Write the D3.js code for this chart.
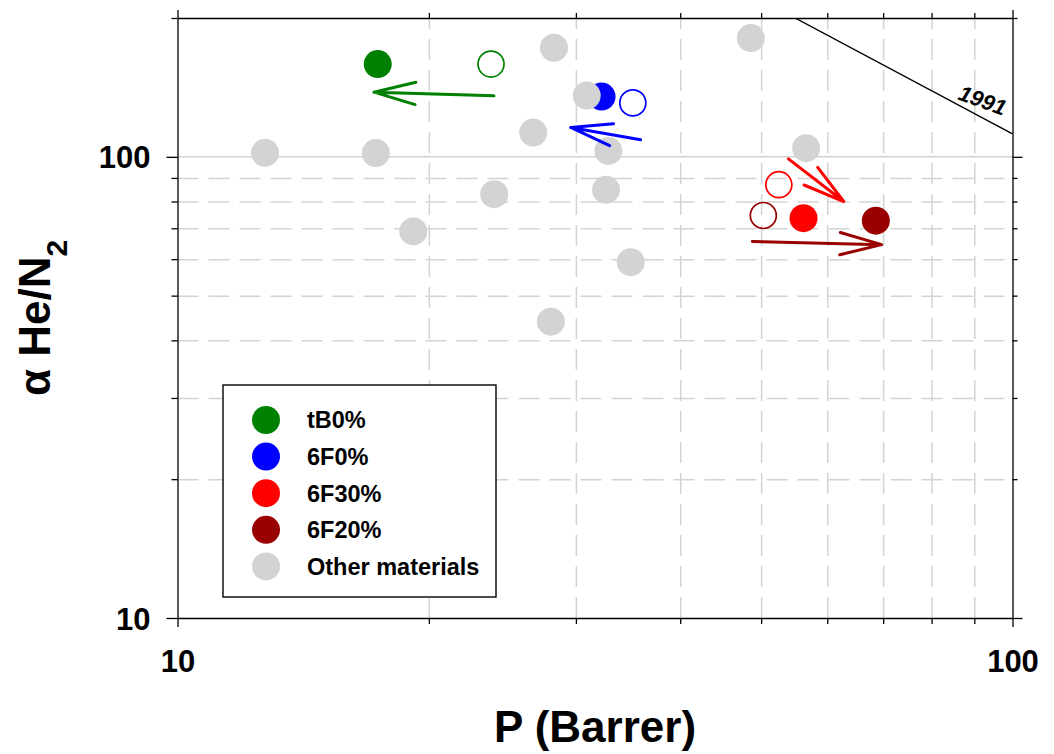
<!DOCTYPE html>
<html>
<head>
<meta charset="utf-8">
<script src="https://cdn.jsdelivr.net/npm/d3@7"></script>
<style>
  body { margin: 0; background: #fff; }
  svg text { font-family: "Liberation Sans", Arial, sans-serif; font-weight: bold; }
  .grid line { stroke: #d3d3d3; stroke-width: 1.5; stroke-dasharray: 21 10; }
  .grid path { display: none; }
  .axis path, .axis line { stroke: #000; stroke-width: 1.3; }
</style>
</head>
<body>
<div class="container"></div>
<script>
// data
const seriesNames = ["tB0%", "6F0%", "6F30%", "6F20%"];
const filledP = [17.37, 32.2, 56.2, 68.6];
const filledAlpha = [158.9, 135.1, 73.6, 72.7];
const openP = [23.74, 35.1, 52.5, 50.3];
const openAlpha = [158.9, 130.9, 87.0, 74.6];
// arrows: from the open marker side towards the filled one
const arrowFromP = [23.93, 35.86, 53.9, 48.8];
const arrowFromAlpha = [135.6, 108.9, 99.0, 65.5];
const arrowToP = [17.19, 29.57, 62.8, 69.7];
const arrowToAlpha = [138.1, 115.8, 80.0, 64.5];

const otherName = "Other materials";
const otherP = [12.73, 17.28, 19.16, 23.95, 26.67, 28.24, 30.91, 32.81, 32.6, 34.9, 28.0, 48.6, 56.6];
const otherAlpha = [102.0, 101.9, 68.9, 83.0, 112.9, 172.4, 135.8, 103.0, 84.8, 59.1, 43.9, 180.9, 104.4];

// 1991 upper bound, where it crosses the frame
const boundP = [54.9, 100];
const boundAlpha = [200, 112.2];
const boundLabel = "1991";

const xMajor = [10, 100];
const xMinor = [20, 30, 40, 50, 60, 70, 80, 90];
const yMajor = [10, 100];
const yMinor = [20, 30, 40, 50, 60, 70, 80, 90, 200];

// styles
const colors = ["#008000", "#0000ff", "#ff0000", "#990000"];
const gray = "#d3d3d3";

const w = 1054, h = 754;
const margin = { top: 18, right: 41.5, bottom: 136, left: 177.5 };
const iw = w - margin.left - margin.right;
const ih = h - margin.top - margin.bottom;

const svg = d3.select(".container").append("svg")
  .attr("width", w).attr("height", h);

const x = d3.scaleLog().domain([10, 100]).range([0, iw]);
const y = d3.scaleLog().domain([10, 200]).range([ih, 0]);

const g = svg.append("g").attr("transform", `translate(${margin.left},${margin.top})`);

// dashed grid
g.append("g").attr("class", "grid")
  .attr("transform", `translate(0,${ih})`)
  .call(d3.axisBottom(x).tickValues(xMinor).tickSize(-ih).tickFormat(""));
g.append("g").attr("class", "grid")
  .call(d3.axisLeft(y).tickValues(yMinor.filter(v => v < 200)).tickSize(-iw).tickFormat(""));
// solid line at 100
g.append("line")
  .attr("x1", 0).attr("x2", iw)
  .attr("y1", y(100)).attr("y2", y(100))
  .attr("stroke", gray).attr("stroke-width", 1.5);

// 1991 bound
g.append("clipPath").attr("id", "plot-clip")
  .append("rect").attr("width", iw).attr("height", ih);
g.append("path")
  .datum(boundP.map((p, i) => [p, boundAlpha[i]]))
  .attr("clip-path", "url(#plot-clip)")
  .attr("fill", "none").attr("stroke", "#000").attr("stroke-width", 1.4)
  .attr("d", d3.line().x(d => x(d[0])).y(d => y(d[1])));
g.append("text")
  .attr("transform", `translate(${x(92.1)},${y(132.5)}) rotate(20)`)
  .attr("text-anchor", "middle").attr("dominant-baseline", "central")
  .style("font-style", "italic").style("font-size", "22px")
  .text(boundLabel);

// filled and open markers
const r = 14;
g.selectAll(".filled").data(seriesNames).enter().append("circle")
  .attr("class", "filled")
  .attr("cx", (d, i) => x(filledP[i])).attr("cy", (d, i) => y(filledAlpha[i]))
  .attr("r", r).attr("fill", (d, i) => colors[i]);
g.selectAll(".open").data(seriesNames).enter().append("circle")
  .attr("class", "open")
  .attr("cx", (d, i) => x(openP[i])).attr("cy", (d, i) => y(openAlpha[i]))
  .attr("r", r - 1).attr("fill", "none")
  .attr("stroke", (d, i) => colors[i]).attr("stroke-width", 1.7);

// other materials (drawn over the coloured ones, as in the figure)
g.selectAll(".other").data(otherP).enter().append("circle")
  .attr("class", "other")
  .attr("cx", d => x(d)).attr("cy", (d, i) => y(otherAlpha[i]))
  .attr("r", r).attr("fill", gray);

// arrows
const headLen = 43, headAng = 15 * Math.PI / 180;
seriesNames.forEach((name, i) => {
  const x0 = x(arrowFromP[i]), y0 = y(arrowFromAlpha[i]);
  const x1 = x(arrowToP[i]), y1 = y(arrowToAlpha[i]);
  const a = Math.atan2(y1 - y0, x1 - x0);
  const b1 = [x1 - headLen * Math.cos(a - headAng), y1 - headLen * Math.sin(a - headAng)];
  const b2 = [x1 - headLen * Math.cos(a + headAng), y1 - headLen * Math.sin(a + headAng)];
  const path = d3.path();
  path.moveTo(x0, y0); path.lineTo(x1, y1);
  path.moveTo(b1[0], b1[1]); path.lineTo(x1, y1); path.lineTo(b2[0], b2[1]);
  g.append("path")
    .attr("d", path.toString())
    .attr("fill", "none").attr("stroke", colors[i])
    .attr("stroke-width", 3).attr("stroke-linecap", "round").attr("stroke-linejoin", "round");
});

// axes: major + minor ticks on all four sides
function addAxis(axisFn, scale, transform, major, minor, majorSize, minorSize, labels) {
  const ga = g.append("g").attr("class", "axis").attr("transform", transform);
  ga.call(axisFn(scale).tickValues(minor).tickSize(minorSize).tickSizeOuter(0).tickFormat(""));
  const gm = g.append("g").attr("class", "axis").attr("transform", transform);
  gm.call(axisFn(scale).tickValues(major).tickSize(majorSize).tickSizeOuter(0)
    .tickFormat(labels ? d3.format("d") : ""));
  gm.select(".domain").remove();
  return gm;
}
const bottom = addAxis(d3.axisBottom, x, `translate(0,${ih})`, xMajor, xMinor, 9, 6, true);
bottom.selectAll("text").attr("y", 32).attr("dy", "0.71em")
  .style("font-size", "31px").attr("fill", "#000");
addAxis(d3.axisTop, x, "translate(0,0)", xMajor, xMinor, 8, 5, false);
const left = addAxis(d3.axisLeft, y, "translate(0,0)", yMajor, yMinor, 11, 6, true);
left.selectAll("text").attr("x", -27).attr("dy", "0.36em")
  .style("font-size", "31px").attr("fill", "#000");
addAxis(d3.axisRight, y, `translate(${iw},0)`, yMajor, yMinor, 10, 5, false);

// axis titles
svg.append("text")
  .attr("x", margin.left + iw / 2).attr("y", 742)
  .attr("text-anchor", "middle").style("font-size", "44px")
  .text("P (Barrer)");
const yt = svg.append("text")
  .attr("transform", `translate(50,${margin.top + ih / 2}) rotate(-90)`)
  .attr("text-anchor", "middle").style("font-size", "44px");
yt.append("tspan").text("α He/N");
yt.append("tspan").attr("dy", 17).style("font-size", "30px").text("2");

// legend
const legend = svg.append("g").attr("transform", "translate(223,385)");
legend.append("rect").attr("width", 273).attr("height", 212)
  .attr("fill", "#fff").attr("stroke", "#000").attr("stroke-width", 1.4);
const legendNames = seriesNames.concat([otherName]);
const legendColors = colors.concat([gray]);
const items = legend.selectAll(".item").data(legendNames).enter().append("g")
  .attr("transform", (d, i) => `translate(43,${35 + i * 36.6})`);
items.append("circle").attr("r", r).attr("fill", (d, i) => legendColors[i]);
items.append("text").attr("x", 41).attr("dy", "0.36em")
  .style("font-size", "23.5px").text(d => d);
</script>
</body>
</html>
